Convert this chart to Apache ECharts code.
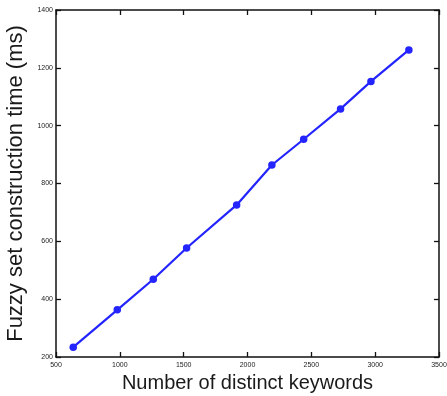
<!DOCTYPE html>
<html>
<head>
<meta charset="utf-8">
<script src="https://cdn.jsdelivr.net/npm/echarts@6/dist/echarts.min.js"></script>
<style>
  html, body { margin: 0; padding: 0; background: #fff; }
  #chart { width: 447px; height: 396px; }
</style>
</head>
<body>
<div id="chart"></div>
<script>
// Number of distinct keywords vs. fuzzy set construction time
const keywordCounts = [635, 980, 1262, 1523, 1915, 2191, 2440, 2729, 2967, 3264];
const constructionMs = [234, 363, 469, 577, 726, 864, 953, 1058, 1153, 1262];

const xRange = { min: 500, max: 3500, interval: 500 };
const yRange = { min: 200, max: 1400, interval: 200 };

const xTitle = 'Number of distinct keywords';
const yTitle = 'Fuzzy set construction time (ms)';

const points = keywordCounts.map((k, i) => [k, constructionMs[i]]);

const lineColor = '#2424ff';
const frame = { lineStyle: { color: '#111', width: 1.5 } };
const inTicks = { show: true, inside: true, length: 5, lineStyle: { color: '#111', width: 1.3 } };
const plainNumber = v => String(v);
const labelFont = { fontFamily: 'Liberation Sans, Arial, sans-serif', fontSize: 7, color: '#222', formatter: plainNumber };
const titleFont = { fontFamily: 'Liberation Sans, Arial, sans-serif', color: '#1a1a1a' };

const chart = echarts.init(document.getElementById('chart'), null, { renderer: 'canvas' });
chart.setOption({
  animation: false,
  backgroundColor: '#ffffff',
  grid: { left: 56, top: 10, right: 8, bottom: 39, containLabel: false, outerBoundsMode: 'none' },
  xAxis: [
    {
      type: 'value', position: 'bottom', ...xRange,
      name: xTitle, nameLocation: 'middle', nameGap: 16,
      nameTextStyle: { ...titleFont, fontSize: 20, verticalAlign: 'top' },
      axisLine: { show: true, ...frame }, axisTick: inTicks,
      axisLabel: { ...labelFont, margin: 5 },
      splitLine: { show: false }
    },
    {
      type: 'value', position: 'top', ...xRange,
      axisLine: { show: true, ...frame }, axisTick: inTicks,
      axisLabel: { show: false }, splitLine: { show: false }
    }
  ],
  yAxis: [
    {
      type: 'value', position: 'left', ...yRange,
      name: yTitle, nameLocation: 'middle', nameGap: 25,
      nameTextStyle: { ...titleFont, fontSize: 22, verticalAlign: 'bottom' },
      axisLine: { show: true, ...frame }, axisTick: inTicks,
      axisLabel: { ...labelFont, margin: 3 },
      splitLine: { show: false }
    },
    {
      type: 'value', position: 'right', ...yRange,
      axisLine: { show: true, ...frame }, axisTick: inTicks,
      axisLabel: { show: false }, splitLine: { show: false }
    }
  ],
  series: [
    {
      type: 'line',
      data: points,
      xAxisIndex: 0, yAxisIndex: 0,
      symbol: 'circle', symbolSize: 7.5,
      lineStyle: { color: lineColor, width: 2.2 },
      itemStyle: { color: lineColor }
    }
  ]
});
</script>
</body>
</html>
